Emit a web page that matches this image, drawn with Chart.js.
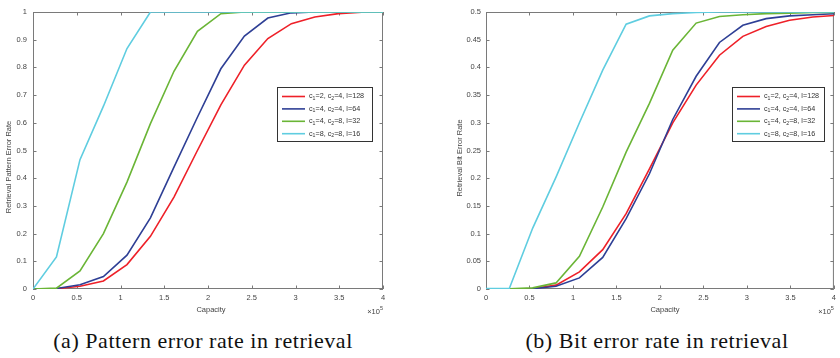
<!DOCTYPE html>
<html><head><meta charset="utf-8">
<script src="https://cdn.jsdelivr.net/npm/chart.js@4/dist/chart.umd.min.js"></script>
<style>
html,body{margin:0;padding:0;background:#fff;width:840px;height:358px;overflow:hidden;}
#wrap{position:relative;width:840px;height:358px;}
canvas{position:absolute;top:0;}
.cap{position:absolute;font-family:"Liberation Serif","Times New Roman",serif;font-size:22px;line-height:22px;letter-spacing:0.55px;color:#111;white-space:nowrap;transform:translateX(-50%);top:330px;}
</style></head>
<body><div id="wrap">
<canvas id="c1" width="420" height="320" style="left:0"></canvas>
<canvas id="c2" width="420" height="320" style="left:420px"></canvas>
<div class="cap" style="left:203px">(a) Pattern error rate in retrieval</div>
<div class="cap" style="left:657px">(b) Bit error rate in retrieval</div>
</div>
<script>
// ---- data ----
const capacity = [0, 0.268, 0.537, 0.805, 1.074, 1.342, 1.611, 1.879, 2.147, 2.416, 2.684, 2.953, 3.221, 3.490, 3.758, 4.026];
const c1Values = [2, 4, 4, 8];
const c2Values = [4, 4, 8, 8];
const lValues = [128, 64, 32, 16];
const seriesColors = ['#ee2028', '#2e3f95', '#6ab536', '#5fcde0'];

const patternRed   = [0, 0.001, 0.010, 0.029, 0.088, 0.190, 0.332, 0.500, 0.665, 0.808, 0.904, 0.958, 0.982, 0.994, 0.999, 1.0];
const patternBlue  = [0, 0.002, 0.015, 0.045, 0.122, 0.257, 0.440, 0.620, 0.795, 0.913, 0.978, 0.997, 1.0, 1.0, 1.0, 1.0];
const patternGreen = [0, 0.003, 0.065, 0.200, 0.386, 0.597, 0.786, 0.930, 0.994, 1.0, 1.0, 1.0, 1.0, 1.0, 1.0, 1.0];
const patternCyan  = [0, 0.116, 0.467, 0.660, 0.868, 1.0, 1.0, 1.0, 1.0, 1.0, 1.0, 1.0, 1.0, 1.0, 1.0, 1.0];

const bitRed   = [0, 0, 0.001, 0.007, 0.031, 0.071, 0.136, 0.217, 0.300, 0.368, 0.422, 0.456, 0.474, 0.485, 0.491, 0.494];
const bitBlue  = [0, 0, 0.0005, 0.005, 0.020, 0.057, 0.127, 0.208, 0.306, 0.384, 0.445, 0.476, 0.488, 0.493, 0.495, 0.497];
const bitGreen = [0, 0.0005, 0.002, 0.011, 0.059, 0.148, 0.247, 0.335, 0.431, 0.480, 0.492, 0.495, 0.497, 0.498, 0.499, 0.499];
const bitCyan  = [0.001, 0.001, 0.110, 0.202, 0.300, 0.395, 0.478, 0.493, 0.497, 0.499, 0.5, 0.5, 0.5, 0.5, 0.5, 0.5];

const xTickLabels = ['0', '0.5', '1', '1.5', '2', '2.5', '3', '3.5', '4'];
const yTickLabelsPattern = ['0', '0.1', '0.2', '0.3', '0.4', '0.5', '0.6', '0.7', '0.8', '0.9', '1'];
const yTickLabelsBit = ['0', '0.05', '0.1', '0.15', '0.2', '0.25', '0.3', '0.35', '0.4', '0.45', '0.5'];

const xTitle = 'Capacity';
const xExponent = '5';
// ---- rendering ----
const SANS = '"Liberation Sans", Arial, Helvetica, sans-serif';
const TXT = '#444';
const FS = 7.5;

const framePlugin = {
  id: 'frame',
  beforeDatasetsDraw(chart) {
    const {ctx, chartArea: a, scales: {x, y}} = chart;
    ctx.save();
    ctx.strokeStyle = '#7a7a7a';
    ctx.lineWidth = 1;
    ctx.strokeRect(a.left + 0.5, a.top + 0.5, a.right - a.left - 1, a.bottom - a.top - 1);
    ctx.beginPath();
    const tl = 3.5;
    x.ticks.forEach(t => {
      const px = Math.round(x.getPixelForValue(t.value)) + 0.5;
      ctx.moveTo(px, a.bottom); ctx.lineTo(px, a.bottom - tl);
      ctx.moveTo(px, a.top); ctx.lineTo(px, a.top + tl);
    });
    y.ticks.forEach(t => {
      const py = Math.round(y.getPixelForValue(t.value)) + 0.5;
      ctx.moveTo(a.left, py); ctx.lineTo(a.left + tl, py);
      ctx.moveTo(a.right, py); ctx.lineTo(a.right - tl, py);
    });
    ctx.stroke();
    ctx.restore();
  }
};

function drawRich(ctx, parts, x, y) {
  let cx = x;
  parts.forEach(([t, sub]) => {
    ctx.font = (sub ? 5.2 : 7.2) + 'px ' + SANS;
    ctx.fillText(t, cx, sub ? y + 2 : y);
    cx += ctx.measureText(t).width;
  });
}

const legendPlugin = {
  id: 'richLegend',
  afterDatasetsDraw(chart, args, opts) {
    const {ctx} = chart;
    const b = opts.box;
    ctx.save();
    ctx.fillStyle = '#fff';
    ctx.fillRect(b.x, b.y, b.w, b.h);
    ctx.strokeStyle = '#333';
    ctx.lineWidth = 1;
    ctx.strokeRect(b.x + 0.5, b.y + 0.5, b.w, b.h);
    chart.data.datasets.forEach((ds, i) => {
      const ry = b.y + 9.5 + i * 12.4;
      ctx.strokeStyle = ds.borderColor;
      ctx.lineWidth = 1.6;
      ctx.beginPath();
      ctx.moveTo(b.x + 5, ry); ctx.lineTo(b.x + 28, ry);
      ctx.stroke();
      ctx.fillStyle = '#333';
      ctx.textBaseline = 'middle';
      ctx.textAlign = 'left';
      drawRich(ctx, [['c', false], ['1', true], ['=' + c1Values[i] + ', c', false], ['2', true], ['=' + c2Values[i] + ', l=' + lValues[i], false]], b.x + 32, ry);
    });
    ctx.restore();
  }
};

const titlePlugin = {
  id: 'axisTitles',
  afterDraw(chart, args, opts) {
    const {ctx, chartArea: a} = chart;
    ctx.save();
    ctx.fillStyle = TXT;
    ctx.font = FS + 'px ' + SANS;
    ctx.textAlign = 'center';
    ctx.textBaseline = 'middle';
    ctx.save();
    ctx.translate(opts.yTitleX, opts.yTitleY);
    ctx.rotate(-Math.PI / 2);
    ctx.fillText(opts.yTitle, 0, 0);
    ctx.restore();
    ctx.fillText(xTitle, opts.xTitleX, 309.5);
    ctx.textAlign = 'left';
    const base = '\u00d710';
    ctx.font = '5.5px ' + SANS;
    const ew = ctx.measureText(xExponent).width;
    ctx.font = FS + 'px ' + SANS;
    const bw = ctx.measureText(base).width;
    const sx = a.right - bw - ew;
    ctx.fillText(base, sx, 312);
    ctx.font = '5.5px ' + SANS;
    ctx.fillText(xExponent, sx + bw, 308);
    ctx.restore();
  }
};

function makeChart(id, cfg) {
  const series = cfg.series;
  return new Chart(document.getElementById(id), {
    type: 'line',
    data: {
      datasets: series.map((s, i) => ({
        data: capacity.map((xv, j) => ({x: xv, y: s[j]})),
        borderColor: seriesColors[i],
        backgroundColor: seriesColors[i],
        borderWidth: 1.6,
        pointRadius: 0,
        tension: 0,
        fill: false,
        order: 4 - i
      }))
    },
    options: {
      responsive: false,
      animation: false,
      devicePixelRatio: 1,
      layout: {padding: {top: 12, right: cfg.padRight, left: 0, bottom: 0}},
      plugins: {
        legend: {display: false},
        tooltip: {enabled: false},
        richLegend: {box: cfg.legendBox},
        axisTitles: {yTitle: cfg.yTitle, yTitleX: cfg.yTitleX, yTitleY: cfg.yTitleY, xTitleX: cfg.xTitleX}
      },
      scales: {
        x: {
          type: 'linear', min: 0, max: 4,
          afterFit: s => { s.height = 31; },
          afterBuildTicks: s => { s.ticks = xTickLabels.map(v => ({value: parseFloat(v)})); },
          ticks: {font: {family: SANS, size: FS}, color: TXT, padding: 4, maxRotation: 0, autoSkip: false,
                  callback: (v, i) => xTickLabels[i]},
          grid: {display: false, drawTicks: false},
          border: {display: false}
        },
        y: {
          type: 'linear', min: 0, max: cfg.yMax,
          afterFit: s => { s.width = cfg.yWidth; },
          afterBuildTicks: s => { s.ticks = cfg.yLabels.map(v => ({value: parseFloat(v)})); },
          ticks: {font: {family: SANS, size: FS}, color: TXT, padding: cfg.yPad, autoSkip: false,
                  callback: (v, i) => cfg.yLabels[i]},
          grid: {display: false, drawTicks: false},
          border: {display: false}
        }
      }
    },
    plugins: [framePlugin, legendPlugin, titlePlugin]
  });
}

makeChart('c1', {
  series: [patternRed, patternBlue, patternGreen, patternCyan],
  yMax: 1, yLabels: yTickLabelsPattern, yWidth: 33, yPad: 6, padRight: 37,
  yTitle: 'Retrieval Pattern Error Rate', yTitleX: 8.5, yTitleY: 167, xTitleX: 211,
  legendBox: {x: 277, y: 87, w: 95, h: 54}
});
makeChart('c2', {
  series: [bitRed, bitBlue, bitGreen, bitCyan],
  yMax: 0.5, yLabels: yTickLabelsBit, yWidth: 66, yPad: 5, padRight: 3,
  yTitle: 'Retrieval Bit Error Rate', yTitleX: 40, yTitleY: 158, xTitleX: 245,
  legendBox: {x: 312, y: 87, w: 92, h: 54}
});
</script>
</body></html>
